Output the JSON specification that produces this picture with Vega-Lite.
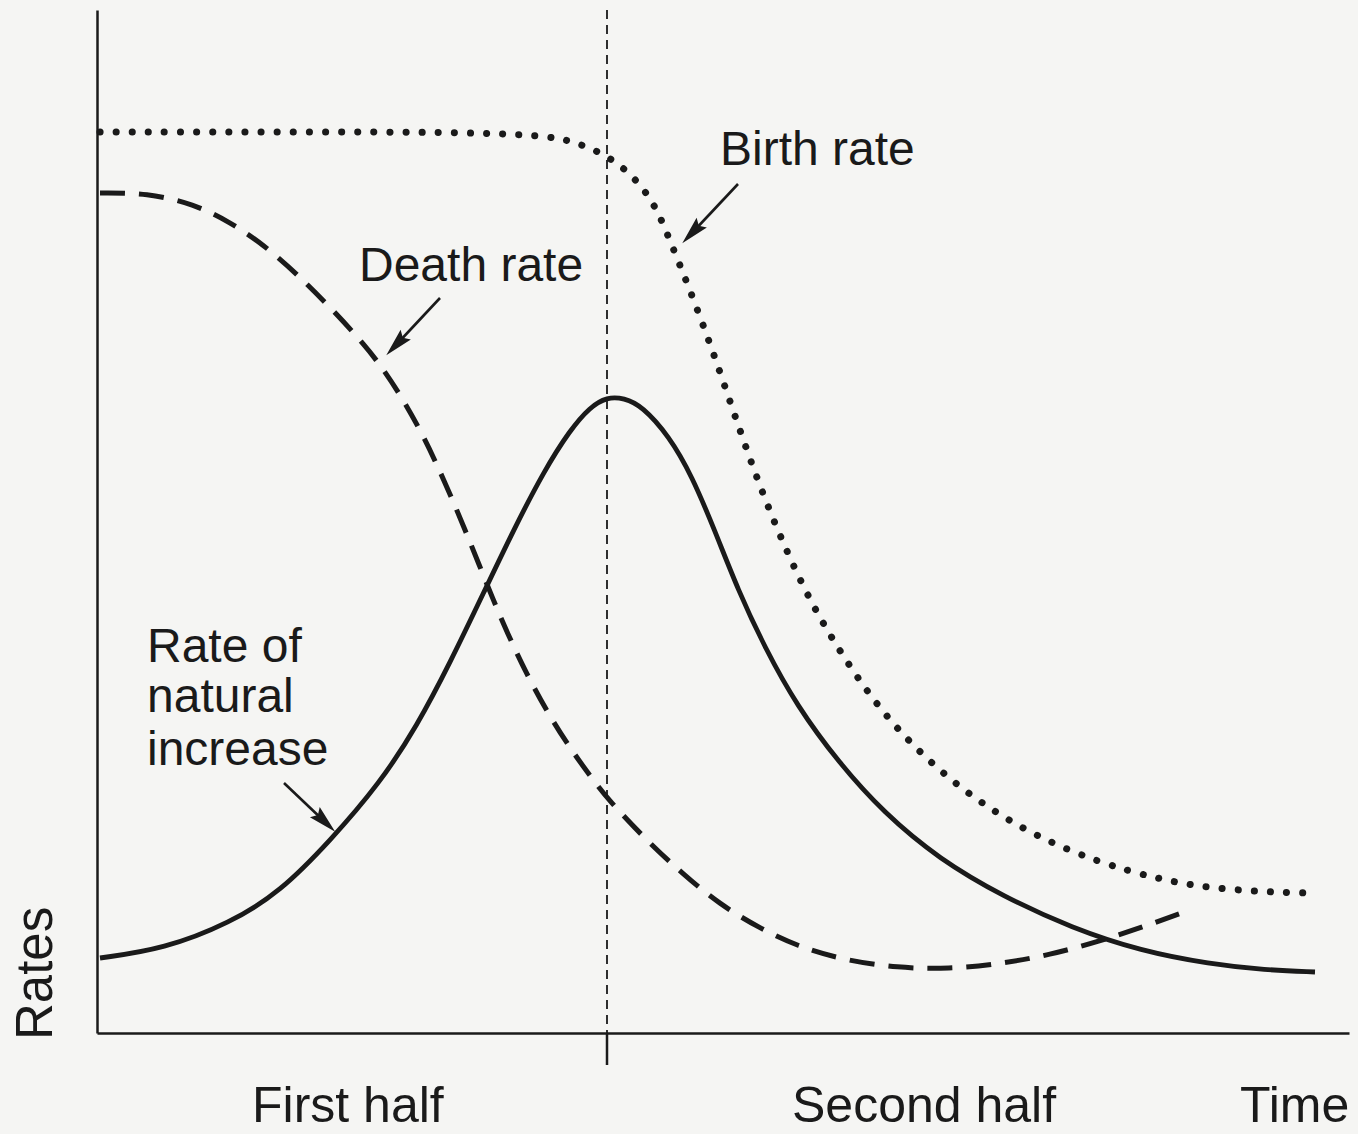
{
  "$schema": "https://vega.github.io/schema/vega-lite/v6.json",
  "width": 1252,
  "height": 1023,
  "padding": {"left": 97, "top": 10, "right": 9, "bottom": 101},
  "autosize": {"type": "none"},
  "background": "#f5f5f3",
  "config": {
    "view": {"stroke": null},
    "axis": {"grid": false, "ticks": false, "labels": false, "title": null, "domainColor": "#1a1a1a", "domainWidth": 2.5}
  },
  "datasets": {
    "curves": [
      {"series": "Birth rate", "t": 3, "r": 901}, {"series": "Birth rate", "t": 103, "r": 901}, {"series": "Birth rate", "t": 203, "r": 901}, {"series": "Birth rate", "t": 303, "r": 901}, {"series": "Birth rate", "t": 383, "r": 900}, {"series": "Birth rate", "t": 433, "r": 898}, {"series": "Birth rate", "t": 463, "r": 895}, {"series": "Birth rate", "t": 489, "r": 887}, {"series": "Birth rate", "t": 516, "r": 874}, {"series": "Birth rate", "t": 541, "r": 852}, {"series": "Birth rate", "t": 559, "r": 826}, {"series": "Birth rate", "t": 572, "r": 795}, {"series": "Birth rate", "t": 597, "r": 733}, {"series": "Birth rate", "t": 620, "r": 670}, {"series": "Birth rate", "t": 641, "r": 608}, {"series": "Birth rate", "t": 663, "r": 546}, {"series": "Birth rate", "t": 688, "r": 485}, {"series": "Birth rate", "t": 716, "r": 426}, {"series": "Birth rate", "t": 750, "r": 370}, {"series": "Birth rate", "t": 788, "r": 317}, {"series": "Birth rate", "t": 833, "r": 270}, {"series": "Birth rate", "t": 883, "r": 230}, {"series": "Birth rate", "t": 938, "r": 197}, {"series": "Birth rate", "t": 1003, "r": 170}, {"series": "Birth rate", "t": 1058, "r": 155}, {"series": "Birth rate", "t": 1103, "r": 146}, {"series": "Birth rate", "t": 1166, "r": 141}, {"series": "Birth rate", "t": 1215, "r": 140},
      {"series": "Death rate", "t": 3, "r": 840}, {"series": "Death rate", "t": 50, "r": 840}, {"series": "Death rate", "t": 97, "r": 829}, {"series": "Death rate", "t": 133, "r": 811}, {"series": "Death rate", "t": 167, "r": 788}, {"series": "Death rate", "t": 200, "r": 759}, {"series": "Death rate", "t": 233, "r": 726}, {"series": "Death rate", "t": 267, "r": 689}, {"series": "Death rate", "t": 287, "r": 663}, {"series": "Death rate", "t": 307, "r": 632}, {"series": "Death rate", "t": 327, "r": 596}, {"series": "Death rate", "t": 347, "r": 553}, {"series": "Death rate", "t": 367, "r": 506}, {"series": "Death rate", "t": 387, "r": 456}, {"series": "Death rate", "t": 407, "r": 407}, {"series": "Death rate", "t": 430, "r": 358}, {"series": "Death rate", "t": 453, "r": 316}, {"series": "Death rate", "t": 477, "r": 279}, {"series": "Death rate", "t": 500, "r": 248}, {"series": "Death rate", "t": 510, "r": 235}, {"series": "Death rate", "t": 549, "r": 193}, {"series": "Death rate", "t": 586, "r": 159}, {"series": "Death rate", "t": 622, "r": 129}, {"series": "Death rate", "t": 664, "r": 104}, {"series": "Death rate", "t": 700, "r": 87}, {"series": "Death rate", "t": 746, "r": 73}, {"series": "Death rate", "t": 801, "r": 65}, {"series": "Death rate", "t": 852, "r": 64}, {"series": "Death rate", "t": 902, "r": 69}, {"series": "Death rate", "t": 953, "r": 78}, {"series": "Death rate", "t": 1003, "r": 92}, {"series": "Death rate", "t": 1049, "r": 107}, {"series": "Death rate", "t": 1087, "r": 121},
      {"series": "Rate of natural increase", "t": 3, "r": 75}, {"series": "Rate of natural increase", "t": 67, "r": 84}, {"series": "Rate of natural increase", "t": 133, "r": 110}, {"series": "Rate of natural increase", "t": 183, "r": 141}, {"series": "Rate of natural increase", "t": 233, "r": 192}, {"series": "Rate of natural increase", "t": 283, "r": 250}, {"series": "Rate of natural increase", "t": 320, "r": 307}, {"series": "Rate of natural increase", "t": 353, "r": 370}, {"series": "Rate of natural increase", "t": 387, "r": 441}, {"series": "Rate of natural increase", "t": 417, "r": 504}, {"series": "Rate of natural increase", "t": 447, "r": 562}, {"series": "Rate of natural increase", "t": 473, "r": 603}, {"series": "Rate of natural increase", "t": 493, "r": 626}, {"series": "Rate of natural increase", "t": 510, "r": 636}, {"series": "Rate of natural increase", "t": 527, "r": 635}, {"series": "Rate of natural increase", "t": 545, "r": 627}, {"series": "Rate of natural increase", "t": 572, "r": 597}, {"series": "Rate of natural increase", "t": 595, "r": 557}, {"series": "Rate of natural increase", "t": 618, "r": 502}, {"series": "Rate of natural increase", "t": 641, "r": 443}, {"series": "Rate of natural increase", "t": 668, "r": 385}, {"series": "Rate of natural increase", "t": 700, "r": 327}, {"series": "Rate of natural increase", "t": 742, "r": 270}, {"series": "Rate of natural increase", "t": 787, "r": 220}, {"series": "Rate of natural increase", "t": 842, "r": 174}, {"series": "Rate of natural increase", "t": 907, "r": 136}, {"series": "Rate of natural increase", "t": 975, "r": 105}, {"series": "Rate of natural increase", "t": 1044, "r": 82}, {"series": "Rate of natural increase", "t": 1113, "r": 69}, {"series": "Rate of natural increase", "t": 1168, "r": 63}, {"series": "Rate of natural increase", "t": 1218, "r": 61}
    ],
    "labels": [
      {"text": "Birth rate", "t": 623, "r": 868},
      {"text": "Death rate", "t": 262, "r": 752},
      {"text": "Rate of", "t": 50, "r": 371},
      {"text": "natural", "t": 50, "r": 321},
      {"text": "increase", "t": 50, "r": 268}
    ],
    "xlabels": [
      {"text": "First half", "t": 155, "r": -89},
      {"text": "Second half", "t": 695, "r": -89},
      {"text": "Time", "t": 1143, "r": -89}
    ],
    "arrows": [
      {"name": "birth", "t": 641, "r": 849, "t2": 595, "r2": 800},
      {"name": "death", "t": 343, "r": 735, "t2": 299, "r2": 688},
      {"name": "nat", "t": 187, "r": 250, "t2": 228, "r2": 211}
    ]
  },
  "encoding": {
    "x": {"field": "t", "type": "quantitative", "scale": {"domain": [0, 1252], "nice": false, "zero": false}, "axis": {"orient": "bottom"}},
    "y": {"field": "r", "type": "quantitative", "scale": {"domain": [0, 1023], "nice": false, "zero": false}, "axis": {"orient": "left"}}
  },
  "layer": [
    {
      "data": {"values": [{"t": 510, "r": 1023, "r2": 0}]},
      "mark": {"type": "rule", "strokeDash": [9, 6], "strokeWidth": 1.8, "color": "#1a1a1a"},
      "encoding": {"y2": {"field": "r2"}}
    },
    {
      "data": {"values": [{"t": 510, "r": 0, "r2": -32}]},
      "mark": {"type": "rule", "strokeWidth": 2.5, "color": "#1a1a1a"},
      "encoding": {"y2": {"field": "r2"}}
    },
    {
      "data": {"name": "curves"},
      "transform": [{"filter": "datum.series === 'Birth rate'"}],
      "mark": {"type": "line", "interpolate": "basis", "strokeDash": [0.1, 16], "strokeCap": "round", "strokeWidth": 7, "color": "#1a1a1a"},
      "encoding": {"order": {"field": "t", "type": "quantitative"}}
    },
    {
      "data": {"name": "curves"},
      "transform": [{"filter": "datum.series === 'Death rate'"}],
      "mark": {"type": "line", "interpolate": "basis", "strokeDash": [25, 14], "strokeWidth": 5, "color": "#1a1a1a"},
      "encoding": {"order": {"field": "t", "type": "quantitative"}}
    },
    {
      "data": {"name": "curves"},
      "transform": [{"filter": "datum.series === 'Rate of natural increase'"}],
      "mark": {"type": "line", "interpolate": "basis", "strokeWidth": 4.8, "color": "#1a1a1a"},
      "encoding": {"order": {"field": "t", "type": "quantitative"}}
    },
    {
      "data": {"name": "arrows"},
      "mark": {"type": "rule", "strokeWidth": 2.6, "color": "#1a1a1a"},
      "encoding": {"x2": {"field": "t2"}, "y2": {"field": "r2"}}
    },
    {
      "data": {"name": "arrows"},
      "transform": [{"filter": "datum.name === 'birth'"}],
      "mark": {"type": "point", "shape": "M0,-1L-0.5,1L0,0.7L0.5,1Z", "filled": true, "size": 800, "angle": 223.5, "color": "#1a1a1a", "opacity": 1},
      "encoding": {"x": {"field": "t2", "type": "quantitative"}, "y": {"field": "r2", "type": "quantitative"}}
    },
    {
      "data": {"name": "arrows"},
      "transform": [{"filter": "datum.name === 'death'"}],
      "mark": {"type": "point", "shape": "M0,-1L-0.5,1L0,0.7L0.5,1Z", "filled": true, "size": 800, "angle": 223.5, "color": "#1a1a1a", "opacity": 1},
      "encoding": {"x": {"field": "t2", "type": "quantitative"}, "y": {"field": "r2", "type": "quantitative"}}
    },
    {
      "data": {"name": "arrows"},
      "transform": [{"filter": "datum.name === 'nat'"}],
      "mark": {"type": "point", "shape": "M0,-1L-0.5,1L0,0.7L0.5,1Z", "filled": true, "size": 800, "angle": 134, "color": "#1a1a1a", "opacity": 1},
      "encoding": {"x": {"field": "t2", "type": "quantitative"}, "y": {"field": "r2", "type": "quantitative"}}
    },
    {
      "data": {"name": "labels"},
      "mark": {"type": "text", "align": "left", "baseline": "alphabetic", "font": "Liberation Sans", "fontSize": 48, "color": "#1a1a1a"},
      "encoding": {"text": {"field": "text"}}
    },
    {
      "data": {"name": "xlabels"},
      "mark": {"type": "text", "align": "left", "baseline": "alphabetic", "font": "Liberation Sans", "fontSize": 50, "color": "#1a1a1a"},
      "encoding": {"text": {"field": "text"}}
    },
    {
      "data": {"values": [{"text": "Rates", "t": -45, "r": -7}]},
      "mark": {"type": "text", "align": "left", "baseline": "alphabetic", "angle": 270, "font": "Liberation Sans", "fontSize": 51, "color": "#1a1a1a"},
      "encoding": {"text": {"field": "text"}}
    }
  ]
}
